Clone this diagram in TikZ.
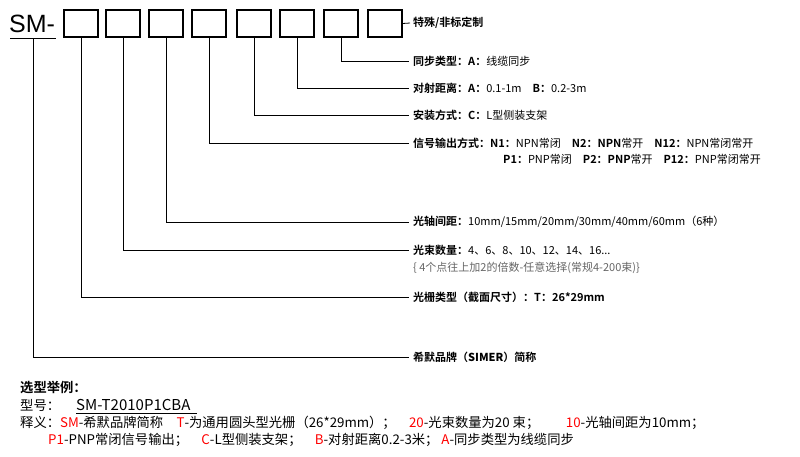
\documentclass[tikz,border=0pt]{standalone}
\usepackage{fontspec}
\setmainfont{Liberation Sans}
\newfontfamily\cjk{Noto Sans CJK SC}
\newfontfamily\cjkb{Noto Sans CJK SC Bold}
\begin{document}
\begin{tikzpicture}[x=1pt,y=-1pt,
  box/.style={draw,line width=1.1pt,minimum width=34pt,minimum height=27pt,inner sep=0pt},
  lead/.style={line width=0.8pt},
  lab/.style={anchor=west,inner sep=0pt,font=\cjk\fontsize{11}{13}\selectfont},
  ex/.style={anchor=west,inner sep=0pt,font=\cjk\fontsize{13.3}{15}\selectfont}]
\useasboundingbox[fill=white] (0,0) rectangle (800,456);
\node[anchor=west,inner sep=0pt,font=\fontsize{25}{28}\selectfont] (sm) at (9,24) {SM-};
\draw[line width=1pt] (10,38) -- (56,38);
\foreach \i/\x in {1/81,2/123,3/166,4/209,5/254,6/297,7/341,8/385}
  \node[box] (b\i) at (\x,23.5) {};
\coordinate (c0) at (33,38);
\node[lab,font=\cjkb\fontsize{11}{13}\selectfont] (t8) at (413,23) {特殊/非标定制};
\node[lab] (t7) at (413,61) {\cjkb 同步类型：A：\cjk 线缆同步};
\node[lab] (t6) at (413,88) {\cjkb 对射距离：A：\cjk 0.1-1m\quad \cjkb B：\cjk 0.2-3m};
\node[lab] (t5) at (413,115) {\cjkb 安装方式：C：\cjk L型侧装支架};
\node[lab] (t4) at (413,143) {\cjkb 信号输出方式：N1：\cjk NPN常闭\quad\cjkb N2：NPN\cjk 常开\quad\cjkb N12：\cjk NPN常闭常开};
\node[lab] (t4b) at (503,159) {\cjkb P1：\cjk PNP常闭\quad\cjkb P2：PNP\cjk 常开\quad\cjkb P12：\cjk PNP常闭常开};
\node[lab] (t3) at (413,222) {\cjkb 光轴间距：\cjk 10mm/15mm/20mm/30mm/40mm/60mm（6种）};
\node[lab] (t2) at (413,250) {\cjkb 光束数量：\cjk 4、6、8、10、12、14、16...};
\node[lab,text=black!60] (t2b) at (413,268) {\{ 4个点往上加2的倍数-任意选择(常规4-200束)\}};
\node[lab] (t1) at (413,297) {\cjkb 光栅类型（截面尺寸）：T：26*29mm};
\node[lab] (t0) at (413,357) {\cjkb 希默品牌（\textbf{SIMER}）简称};
\draw[lead] (b8.east) -- (t8.west -| 410,0);
\draw[lead] (b7.south) |- (409,61);
\draw[lead] (b6.south) |- (409,88);
\draw[lead] (b5.south) |- (409,115);
\draw[lead] (b4.south) |- (409,143);
\draw[lead] (b3.south) |- (409,222);
\draw[lead] (b2.south) |- (409,250);
\draw[lead] (b1.south) |- (409,297);
\draw[lead] (c0) |- (409,357);
\node[ex,font=\cjkb\fontsize{13.3}{15}\selectfont] (e1) at (20,387) {选型举例：};
\node[ex] (e2) at (20,405) {型号：};
\node[ex,font=\cjk\fontsize{15}{16}\selectfont] (e2b) at (76,405) {SM-T2010P1CBA};
\draw[line width=0.6pt] (e2b.south west) ++(0,2) -- ++(121,0);
\node[ex] (e3) at (20,423) {释义：\textcolor{red}{SM}-希默品牌简称\quad \textcolor{red}{T}-为通用圆头型光栅（26*29mm）；\quad \textcolor{red}{20}-光束数量为20 束；\qquad \textcolor{red}{10}-光轴间距为10mm；};
\node[ex] (e4) at (48,440) {\textcolor{red}{P1}-PNP常闭信号输出；\quad \textcolor{red}{C}-L型侧装支架；\quad \textcolor{red}{B}-对射距离0.2-3米；\ \textcolor{red}{A}-同步类型为线缆同步};
\end{tikzpicture}
\end{document}
